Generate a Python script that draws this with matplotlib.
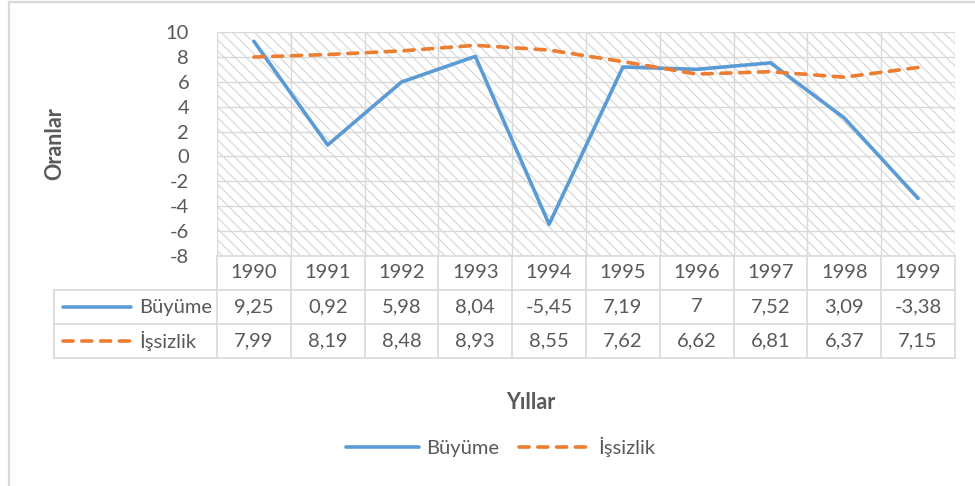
import numpy as np
import matplotlib.pyplot as plt
from matplotlib.patches import Rectangle
from matplotlib.lines import Line2D

plt.rcParams['font.family'] = ['Lato', 'DejaVu Sans']
plt.rcParams['axes.unicode_minus'] = False
plt.rcParams['hatch.linewidth'] = 0.9
plt.rcParams['hatch.color'] = '#d9d9d9'

# data
years = ['1990', '1991', '1992', '1993', '1994', '1995', '1996', '1997', '1998', '1999']
buyume = [9.25, 0.92, 5.98, 8.04, -5.45, 7.19, 7, 7.52, 3.09, -3.38]
issizlik = [7.99, 8.19, 8.48, 8.93, 8.55, 7.62, 6.62, 6.81, 6.37, 7.15]
buyume_txt = ['9,25', '0,92', '5,98', '8,04', '-5,45', '7,19', '7', '7,52', '3,09', '-3,38']
issizlik_txt = ['7,99', '8,19', '8,48', '8,93', '8,55', '7,62', '6,62', '6,81', '6,37', '7,15']

blue = '#5B9BD5'
orange = '#ED7D31'
grid = '#D9D9D9'
txt = '#595959'
fs = 14.5
dash = (2.8, 2.4)

W, H = 975, 486
fig = plt.figure(figsize=(W / 100, H / 100), dpi=100)

def box(x0, y0, x1, y1):
    # pixel box -> figure fraction rect
    return [x0 / W, 1 - y1 / H, (x1 - x0) / W, (y1 - y0) / H]

# outer chart border (top and left visible)
fig.add_artist(Line2D([8.5 / W, 8.5 / W], [0, 1 - 2.5 / H], color=grid, lw=1.6))
fig.add_artist(Line2D([8.5 / W, 1], [1 - 2.5 / H, 1 - 2.5 / H], color=grid, lw=1.6))

# plot area
ax = fig.add_axes(box(217, 32, 955, 256))
n = len(years)
ax.set_xlim(0, n)
ax.set_ylim(-8, 10)
ax.add_patch(Rectangle((0, -8), n, 18, facecolor='white', edgecolor='#d9d9d9',
                       hatch='\\\\\\', lw=0, zorder=0))
for yv in np.arange(-8, 11, 2):
    ax.axhline(yv, color=grid, lw=1.0, zorder=1)
for xv in range(n + 1):
    ax.axvline(xv, color=grid, lw=1.0, zorder=1)
xc = np.arange(n) + 0.5
ax.plot(xc, buyume, color=blue, lw=2.6, zorder=3, solid_capstyle='round')
ax.plot(xc, issizlik, color=orange, lw=2.6, zorder=3, dashes=dash, dash_capstyle='round')
for s in ax.spines.values():
    s.set_visible(False)
ax.set_xticks([])
ax.set_yticks(np.arange(-8, 11, 2))
ax.tick_params(axis='y', length=0, labelsize=fs, labelcolor=txt, pad=20)
ax.set_ylabel('Oranlar', fontsize=15.5, fontweight='bold', color=txt)
ax.yaxis.set_label_coords(-0.205, 0.5)

# data table
tb = fig.add_axes(box(54, 256, 955, 358))
left = -163 / 73.8
tb.set_xlim(left, n)
tb.set_ylim(3, 0)
tb.axis('off')
lk = dict(color=grid, lw=1.2, clip_on=False)
tb.plot([0, 0], [0, 3], **lk)
for xv in range(1, n + 1):
    tb.plot([xv, xv], [0, 3], **lk)
tb.plot([left, left], [1, 3], **lk)
tb.plot([0, n], [0, 0], **lk)
tb.plot([left, n], [1, 1], **lk)
tb.plot([left, n], [2, 2], **lk)
tb.plot([left, n], [3, 3], **lk)
for i in range(n):
    tb.text(i + 0.5, 0.5, years[i], ha='center', va='center', fontsize=fs, color=txt)
    tb.text(i + 0.5, 1.5, buyume_txt[i], ha='center', va='center', fontsize=fs, color=txt)
    tb.text(i + 0.5, 2.5, issizlik_txt[i], ha='center', va='center', fontsize=fs, color=txt)
tb.plot([left + 0.12, left + 1.05], [1.5, 1.5], color=blue, lw=2.6, solid_capstyle='round', clip_on=False)
tb.plot([left + 0.12, left + 1.05], [2.5, 2.5], color=orange, lw=2.6, dashes=dash,
        dash_capstyle='round', clip_on=False)
tb.text(left + 1.16, 1.5, 'Büyüme', ha='left', va='center', fontsize=fs, color=txt)
tb.text(left + 1.16, 2.5, 'İşsizlik', ha='left', va='center', fontsize=fs, color=txt)

# axis title and legend
fig.text(531 / W, 1 - 402 / H, 'Yıllar', ha='center', va='center', fontsize=15.5,
         fontweight='bold', color=txt)
handles = [Line2D([], [], color=blue, lw=2.6, solid_capstyle='round'),
           Line2D([], [], color=orange, lw=2.6, dashes=dash, dash_capstyle='round')]
leg = fig.legend(handles, ['Büyüme', 'İşsizlik'], loc='center', ncol=2,
                 bbox_to_anchor=(501 / W, 1 - 447 / H), frameon=False, fontsize=fs,
                 handlelength=3.6, handletextpad=0.35, columnspacing=1.0)
for t in leg.get_texts():
    t.set_color(txt)

fig.savefig('out.png', dpi=100)
